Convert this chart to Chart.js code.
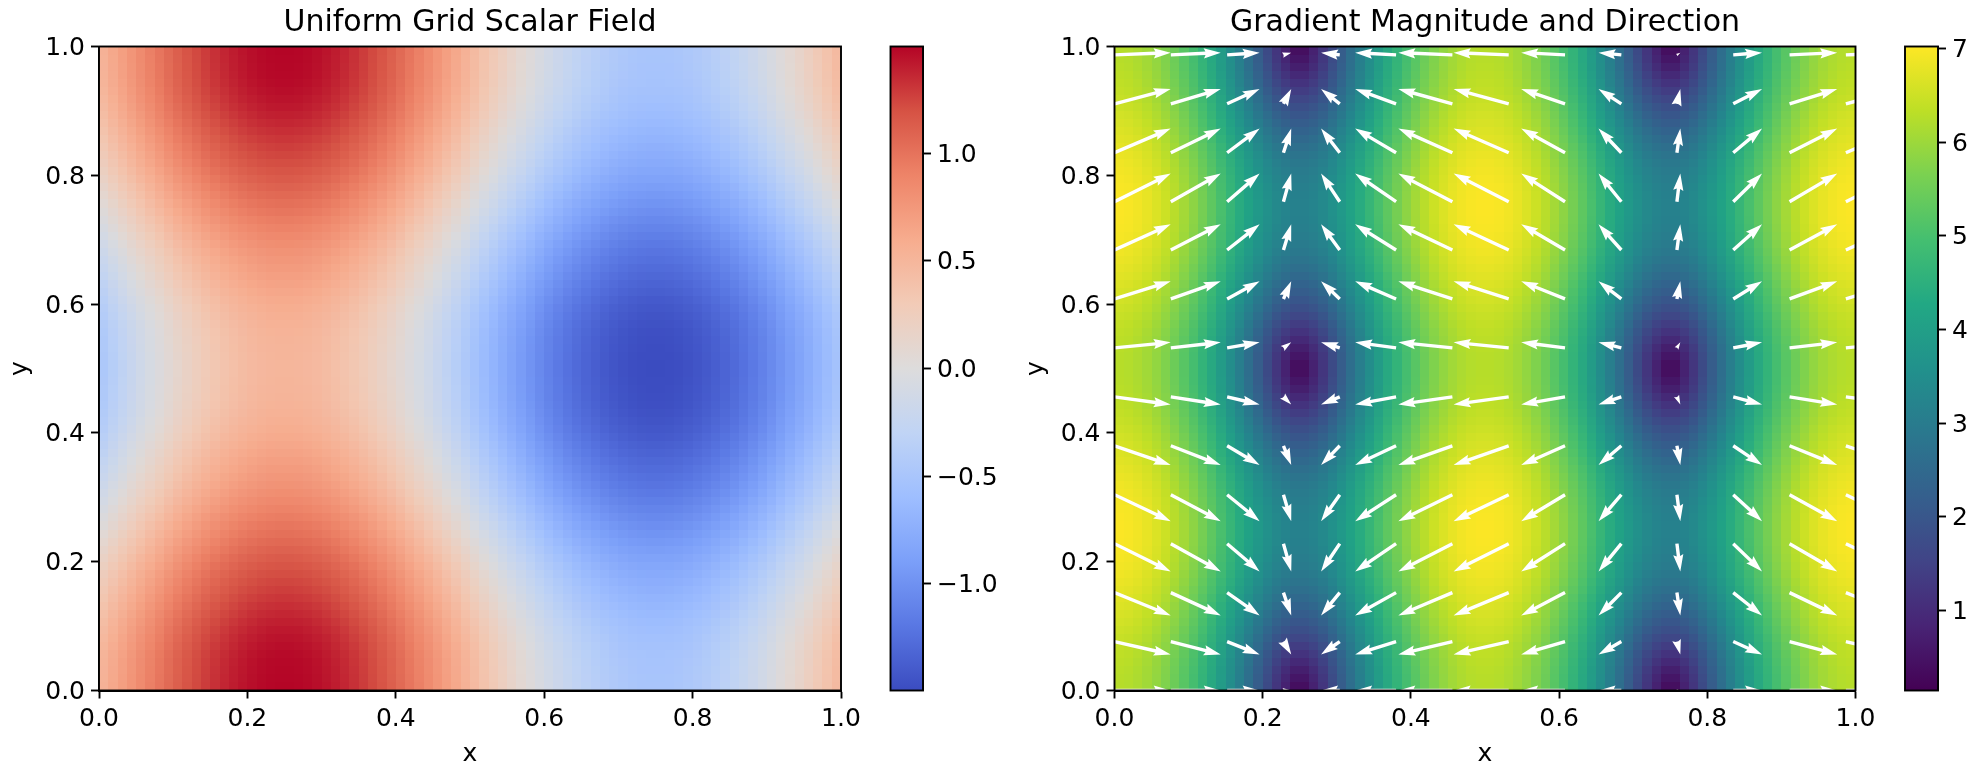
<!DOCTYPE html>
<html>
<head>
<meta charset="utf-8">
<title>Uniform Grid Scalar Field</title>
<script src="https://cdn.jsdelivr.net/npm/chart.js@4/dist/chart.umd.min.js"></script>
<style>
  html, body { margin: 0; padding: 0; background: #fff; width: 1980px; height: 774px; overflow: hidden; }
  canvas { position: absolute; top: 0; }
</style>
</head>
<body>
<canvas id="scalar-plot" width="880" height="774" style="left:0"></canvas>
<canvas id="scalar-bar" width="120" height="774" style="left:880px"></canvas>
<canvas id="gradient-plot" width="880" height="774" style="left:1016px"></canvas>
<canvas id="gradient-bar" width="85" height="774" style="left:1895px"></canvas>
<script>
// --- Values ---

const axisTicks = [0, 0.2, 0.4, 0.6, 0.8, 1];
const scalarBarTicks = [-1, -0.5, 0, 0.5, 1];
const gradientBarTicks = [1, 2, 3, 4, 5, 6, 7];
const scalarRange = [-1.497, 1.497];
const gradientRange = [0.146, 7.02];

// Scalar field in hundredths: rows run y = 0 to 0.5 in steps of 1/40, columns x = 0 to 1.
// The picture is mirrored about y = 0.5, so the upper half reuses these rows.
const scalarRows = [
  [50,66,81,95,109,121,131,139,145,149,150,149,145,139,131,121,109,95,81,66,50,34,19,5,-9,-21,-31,-39,-45,-49,-50,-49,-45,-39,-31,-21,-9,5,19,34,50],
  [49,65,80,94,108,120,130,138,144,148,149,148,144,138,130,120,108,94,80,65,49,33,18,4,-10,-22,-32,-40,-46,-50,-51,-50,-46,-40,-32,-22,-10,4,18,33,49],
  [48,64,79,93,107,119,129,137,143,147,148,147,143,137,129,119,107,93,79,64,48,32,17,3,-11,-23,-33,-41,-47,-51,-52,-51,-47,-41,-33,-23,-11,3,17,32,48],
  [45,61,76,90,104,116,126,134,140,144,145,144,140,134,126,116,104,90,76,61,45,29,14,0,-14,-26,-36,-44,-50,-54,-55,-54,-50,-44,-36,-26,-14,0,14,29,45],
  [41,57,72,86,100,112,122,130,136,140,141,140,136,130,122,112,100,86,72,57,41,25,10,-4,-18,-30,-40,-48,-54,-58,-59,-58,-54,-48,-40,-30,-18,-4,10,25,41],
  [35,51,66,80,94,106,116,124,130,134,135,134,130,124,116,106,94,80,66,51,35,19,4,-10,-24,-36,-46,-54,-60,-64,-65,-64,-60,-54,-46,-36,-24,-10,4,19,35],
  [29,45,60,74,88,100,110,118,124,128,129,128,124,118,110,100,88,74,60,45,29,13,-2,-16,-30,-42,-52,-60,-66,-70,-71,-70,-66,-60,-52,-42,-30,-16,-2,13,29],
  [23,39,54,68,82,94,104,112,118,122,123,122,118,112,104,94,82,68,54,39,23,7,-8,-22,-36,-48,-58,-66,-72,-76,-77,-76,-72,-66,-58,-48,-36,-22,-8,7,23],
  [16,32,47,61,75,87,97,105,111,115,116,115,111,105,97,87,75,61,47,32,16,0,-15,-29,-43,-55,-65,-73,-79,-83,-84,-83,-79,-73,-65,-55,-43,-29,-15,0,16],
  [8,24,39,53,67,79,89,97,103,107,108,107,103,97,89,79,67,53,39,24,8,-8,-23,-37,-51,-63,-73,-81,-87,-91,-92,-91,-87,-81,-73,-63,-51,-37,-23,-8,8],
  [0,16,31,45,59,71,81,89,95,99,100,99,95,89,81,71,59,45,31,16,0,-16,-31,-45,-59,-71,-81,-89,-95,-99,-100,-99,-95,-89,-81,-71,-59,-45,-31,-16,0],
  [-8,8,23,37,51,63,73,81,87,91,92,91,87,81,73,63,51,37,23,8,-8,-24,-39,-53,-67,-79,-89,-97,-103,-107,-108,-107,-103,-97,-89,-79,-67,-53,-39,-24,-8],
  [-16,0,15,29,43,55,65,73,79,83,84,83,79,73,65,55,43,29,15,0,-16,-32,-47,-61,-75,-87,-97,-105,-111,-115,-116,-115,-111,-105,-97,-87,-75,-61,-47,-32,-16],
  [-23,-7,8,22,36,48,58,66,72,76,77,76,72,66,58,48,36,22,8,-7,-23,-39,-54,-68,-82,-94,-104,-112,-118,-122,-123,-122,-118,-112,-104,-94,-82,-68,-54,-39,-23],
  [-29,-13,2,16,30,42,52,60,66,70,71,70,66,60,52,42,30,16,2,-13,-29,-45,-60,-74,-88,-100,-110,-118,-124,-128,-129,-128,-124,-118,-110,-100,-88,-74,-60,-45,-29],
  [-35,-19,-4,10,24,36,46,54,60,64,65,64,60,54,46,36,24,10,-4,-19,-35,-51,-66,-80,-94,-106,-116,-124,-130,-134,-135,-134,-130,-124,-116,-106,-94,-80,-66,-51,-35],
  [-41,-25,-10,4,18,30,40,48,54,58,59,58,54,48,40,30,18,4,-10,-25,-41,-57,-72,-86,-100,-112,-122,-130,-136,-140,-141,-140,-136,-130,-122,-112,-100,-86,-72,-57,-41],
  [-45,-29,-14,0,14,26,36,44,50,54,55,54,50,44,36,26,14,0,-14,-29,-45,-61,-76,-90,-104,-116,-126,-134,-140,-144,-145,-144,-140,-134,-126,-116,-104,-90,-76,-61,-45],
  [-48,-32,-17,-3,11,23,33,41,47,51,52,51,47,41,33,23,11,-3,-17,-32,-48,-64,-79,-93,-107,-119,-129,-137,-143,-147,-148,-147,-143,-137,-129,-119,-107,-93,-79,-64,-48],
  [-49,-33,-18,-4,10,22,32,40,46,50,51,50,46,40,32,22,10,-4,-18,-33,-49,-65,-80,-94,-108,-120,-130,-138,-144,-148,-149,-148,-144,-138,-130,-120,-108,-94,-80,-65,-49],
  [-50,-34,-19,-5,9,21,31,39,45,49,50,49,45,39,31,21,9,-5,-19,-34,-50,-66,-81,-95,-109,-121,-131,-139,-145,-149,-150,-149,-145,-139,-131,-121,-109,-95,-81,-66,-50]
];

// Gradient magnitude in hundredths: rows run y = 0 to 0.25, mirrored twice to fill the panel.
const gradientRows = [
  [628,621,598,560,508,444,369,285,194,98,15,98,194,285,369,444,508,560,598,621,628,621,598,560,508,444,369,285,194,98,15,98,194,285,369,444,508,560,598,621,628],
  [630,623,600,562,510,447,372,289,200,110,49,110,200,289,372,447,510,562,600,623,630,623,600,562,510,447,372,289,200,110,49,110,200,289,372,447,510,562,600,623,630],
  [635,629,606,568,517,454,382,301,217,138,97,138,217,301,382,454,517,568,606,629,635,629,606,568,517,454,382,301,217,138,97,138,217,301,382,454,517,568,606,629,635],
  [644,637,615,578,528,466,396,319,241,173,143,173,241,319,396,466,528,578,615,637,644,637,615,578,528,466,396,319,241,173,143,173,241,319,396,466,528,578,615,637,644],
  [655,648,626,590,541,481,413,340,268,209,185,209,268,340,413,481,541,590,626,648,655,648,626,590,541,481,413,340,268,209,185,209,268,340,413,481,541,590,626,648,655],
  [666,659,638,602,554,496,431,361,295,243,222,243,295,361,431,496,554,602,638,659,666,659,638,602,554,496,431,361,295,243,222,243,295,361,431,496,554,602,638,659,666],
  [677,671,650,615,568,512,448,382,320,272,254,272,320,382,448,512,568,615,650,671,677,671,650,615,568,512,448,382,320,272,254,272,320,382,448,512,568,615,650,671,677],
  [688,681,660,626,580,525,463,400,341,297,280,297,341,400,463,525,580,626,660,681,688,681,660,626,580,525,463,400,341,297,280,297,341,400,463,525,580,626,660,681,688],
  [696,689,669,635,589,535,475,413,356,315,299,315,356,413,475,535,589,635,669,689,696,689,669,635,589,535,475,413,356,315,299,315,356,413,475,535,589,635,669,689,696],
  [700,694,674,640,595,542,482,421,366,325,310,325,366,421,482,542,595,640,674,694,700,694,674,640,595,542,482,421,366,325,310,325,366,421,482,542,595,640,674,694,700],
  [702,696,675,642,597,544,485,424,369,329,314,329,369,424,485,544,597,642,675,696,702,696,675,642,597,544,485,424,369,329,314,329,369,424,485,544,597,642,675,696,702]
];

// Arrow tails and components: U changes along the columns, V along the rows.
const arrowX = [0, 0.076, 0.152, 0.228, 0.304, 0.38, 0.456, 0.532, 0.608, 0.684, 0.759, 0.835, 0.911, 0.987];
const arrowY = [0, 0.076, 0.152, 0.228, 0.304, 0.38, 0.456, 0.532, 0.608, 0.684, 0.759, 0.835, 0.911, 0.987];
const arrowU = [6.28, 5.58, 3.63, 0.87, -2.09, -4.57, -6.04, -6.16, -4.90, -2.55, 0.38, 3.22, 5.33, 6.26];
const arrowV = [0, -1.44, -2.56, -3.11, -2.96, -2.16, -0.86, 0.62, 1.97, 2.87, 3.14, 2.70, 1.66, 0.25];

// --- Styles ---

const coolwarmStops = ['#3b4cc0', '#5977e3', '#7b9ff9', '#9ebeff', '#c0d4f5', '#dddcdc', '#f2cbb7', '#f7ac8e', '#ee8468', '#d65244', '#b40426'];
const viridisStops = ['#440154', '#482475', '#414487', '#355f8d', '#2a788e', '#21918c', '#22a884', '#44bf70', '#7ad151', '#bddf26', '#fde725'];
const LINE_W = 1.9;
const TICK_FONT = 25;
const Y_LABEL_NUDGE = 2;
const ARROW_PX_PER_UNIT = 8.95;
const ARROW_SHAFT = 3.4;

Chart.defaults.font.family = '"DejaVu Sans"';
Chart.defaults.color = '#000';
Chart.defaults.animation = false;

// --- Helpers ---

function mirrorRows(rows) {
    return rows.concat(rows.slice(0, -1).reverse());
}

function hexToRgb(hex) {
    return [1, 3, 5].map(p => parseInt(hex.slice(p, p + 2), 16));
}

function colorAt(stops, t) {
    const pos = Math.min(Math.max(t, 0), 1) * (stops.length - 1);
    const lo = Math.min(Math.floor(pos), stops.length - 2);
    const a = hexToRgb(stops[lo]);
    const b = hexToRgb(stops[lo + 1]);
    return a.map((c, k) => Math.round(c + (b[k] - c) * (pos - lo)));
}

// rows start at y = 0, columns at x = 0
function gridPoints(rows) {
    const points = [];
    rows.forEach((row, j) => row.forEach((v, i) => {
        points.push({ x: i / (row.length - 1), y: j / (rows.length - 1), v: v / 100, i, j });
    }));
    return points;
}

function arrowPoints() {
    const points = [];
    arrowY.forEach((y, j) => arrowX.forEach((x, i) => {
        points.push({ x, y, u: arrowU[i], v: arrowV[j] });
    }));
    return points;
}

function minusLabel(v) {
    return v.toFixed(1).replace('-', '\u2212');
}

// --- Plugins ---

// Paints the grid dataset across the plot area as 80 x 80 cells
const fieldPlugin = {
    id: 'fieldPlugin',
    beforeDatasetsDraw(chart, args, opts) {
        const points = chart.data.datasets[0].data;
        const cols = Math.max(...points.map(p => p.i)) + 1;
        const rows = Math.max(...points.map(p => p.j)) + 1;
        const src = document.createElement('canvas');
        src.width = cols;
        src.height = rows;
        const srcCtx = src.getContext('2d');
        const img = srcCtx.createImageData(cols, rows);
        points.forEach(p => {
            const t = (p.v - opts.range[0]) / (opts.range[1] - opts.range[0]);
            const rgb = colorAt(opts.stops, t);
            const k = 4 * ((rows - 1 - p.j) * cols + p.i);
            img.data[k] = rgb[0];
            img.data[k + 1] = rgb[1];
            img.data[k + 2] = rgb[2];
            img.data[k + 3] = 255;
        });
        srcCtx.putImageData(img, 0, 0);

        const cells = document.createElement('canvas');
        cells.width = 80;
        cells.height = 80;
        cells.getContext('2d').drawImage(src, 0.5, 0.5, cols - 1, rows - 1, 0, 0, 80, 80);

        const { x, y } = chart.scales;
        const left = x.getPixelForValue(0);
        const top = y.getPixelForValue(1);
        const ctx = chart.ctx;
        ctx.save();
        ctx.imageSmoothingEnabled = false;
        ctx.drawImage(cells, left, top, x.getPixelForValue(1) - left, y.getPixelForValue(0) - top);
        ctx.restore();
    }
};

// Quiver style arrows from the second dataset, tail on the point
const arrowPlugin = {
    id: 'arrowPlugin',
    afterDatasetsDraw(chart) {
        const set = chart.data.datasets[1];
        if (!set) return;
        const { x, y } = chart.scales;
        const area = chart.chartArea;
        const ctx = chart.ctx;
        ctx.save();
        ctx.beginPath();
        ctx.rect(area.left, area.top, area.right - area.left, area.bottom - area.top);
        ctx.clip();
        ctx.fillStyle = '#fff';
        set.data.forEach(p => {
            const dx = p.u * ARROW_PX_PER_UNIT;
            const dy = -p.v * ARROW_PX_PER_UNIT;
            const len = Math.hypot(dx, dy);
            const shrink = Math.min(1, len / (4.5 * ARROW_SHAFT));
            const w = ARROW_SHAFT * shrink;
            ctx.save();
            ctx.translate(x.getPixelForValue(p.x), y.getPixelForValue(p.y));
            ctx.rotate(Math.atan2(dy, dx));
            ctx.beginPath();
            ctx.moveTo(0, -w / 2);
            ctx.lineTo(len - 4.5 * w, -w / 2);
            ctx.lineTo(len - 5 * w, -1.5 * w);
            ctx.lineTo(len, 0);
            ctx.lineTo(len - 5 * w, 1.5 * w);
            ctx.lineTo(len - 4.5 * w, w / 2);
            ctx.lineTo(0, w / 2);
            ctx.closePath();
            ctx.fill();
            ctx.restore();
        });
        ctx.restore();
    }
};

const barFillPlugin = {
    id: 'barFillPlugin',
    beforeDatasetsDraw(chart, args, opts) {
        const area = chart.chartArea;
        const ctx = chart.ctx;
        const grad = ctx.createLinearGradient(0, area.bottom, 0, area.top);
        opts.stops.forEach((c, k) => grad.addColorStop(k / (opts.stops.length - 1), c));
        ctx.fillStyle = grad;
        ctx.fillRect(area.left, area.top, area.right - area.left, area.bottom - area.top);
    }
};

const framePlugin = {
    id: 'framePlugin',
    afterDraw(chart) {
        const area = chart.chartArea;
        const ctx = chart.ctx;
        ctx.save();
        ctx.strokeStyle = '#000';
        ctx.lineWidth = LINE_W;
        ctx.strokeRect(area.left, area.top, area.right - area.left, area.bottom - area.top);
        ctx.restore();
    }
};

// Canvas 'middle' baseline sits a bit above the tick, push the y labels down to it
const yLabelPlugin = {
    id: 'yLabelPlugin',
    beforeDraw(chart) {
        const items = chart.scales.y.getLabelItems();
        if (items.nudged) return;
        items.forEach(item => { item.options.translation[1] += Y_LABEL_NUDGE; });
        items.nudged = true;
    }
};

// --- Chart builders ---

function tickAxis(position, ticks, format, size, label) {
    return {
        type: 'linear',
        position,
        afterBuildTicks(scale) { scale.ticks = ticks.map(value => ({ value })); },
        afterFit(scale) {
            if (scale.isHorizontal()) scale.height = size; else scale.width = size;
            scale.paddingLeft = scale.paddingRight = scale.paddingTop = scale.paddingBottom = 0;
        },
        border: { display: true, color: '#000', width: LINE_W },
        grid: { display: true, drawOnChartArea: false, drawTicks: true, tickLength: 8, tickWidth: LINE_W, tickColor: '#000' },
        ticks: { font: { size: TICK_FONT }, color: '#000', padding: 6, autoSkip: false, maxRotation: 0, callback: format },
        title: label ? { display: true, text: label, color: '#000', font: { size: TICK_FONT }, padding: { top: 5, bottom: 5 } } : { display: false }
    };
}

function fieldChart(id, title, datasets, fieldOpts, yAxisWidth, rightPad) {
    const fmt = v => v.toFixed(1);
    const xAxis = Object.assign(tickAxis('bottom', axisTicks, fmt, 83.5, 'x'), { min: 0, max: 1 });
    const yAxis = Object.assign(tickAxis('left', axisTicks, fmt, yAxisWidth, 'y'), { min: 0, max: 1 });
    return new Chart(document.getElementById(id), {
        type: 'scatter',
        data: { datasets },
        plugins: [fieldPlugin, arrowPlugin, framePlugin, yLabelPlugin],
        options: {
            responsive: false,
            devicePixelRatio: 1,
            layout: { padding: { left: 0, right: rightPad, top: 0, bottom: 0 } },
            scales: { x: xAxis, y: yAxis },
            plugins: {
                legend: { display: false },
                tooltip: { enabled: false },
                title: { display: true, text: title, fullSize: false, color: '#000', font: { size: 30, weight: 'normal' }, padding: { top: 5.6, bottom: 4.9 } },
                fieldPlugin: fieldOpts
            }
        }
    });
}

function colorBar(id, range, ticks, format, stops, leftPad, barAxisWidth) {
    const yAxis = Object.assign(tickAxis('right', ticks, format, barAxisWidth), { min: range[0], max: range[1] });
    return new Chart(document.getElementById(id), {
        type: 'scatter',
        data: { datasets: [{ data: ticks.map(v => ({ x: 0.5, y: v })), pointRadius: 0 }] },
        plugins: [barFillPlugin, framePlugin, yLabelPlugin],
        options: {
            responsive: false,
            devicePixelRatio: 1,
            layout: { padding: { left: leftPad, right: 0, top: 46.5, bottom: 83.5 } },
            scales: { x: { display: false, min: 0, max: 1 }, y: yAxis },
            plugins: {
                legend: { display: false },
                tooltip: { enabled: false },
                barFillPlugin: { stops }
            }
        }
    });
}

// --- Draw ---

const scalarTable = mirrorRows(scalarRows);
const gradientTable = mirrorRows(mirrorRows(gradientRows));

fieldChart('scalar-plot', 'Uniform Grid Scalar Field',
    [{ label: 'Scalar field', data: gridPoints(scalarTable), pointRadius: 0 }],
    { range: scalarRange, stops: coolwarmStops }, 99, 39);

fieldChart('gradient-plot', 'Gradient Magnitude and Direction',
    [{ label: 'Gradient magnitude', data: gridPoints(gradientTable), pointRadius: 0 },
     { label: 'Gradient direction', data: arrowPoints(), pointRadius: 0 }],
    { range: gradientRange, stops: viridisStops }, 98.5, 40.5);

colorBar('scalar-bar', scalarRange, scalarBarTicks, minusLabel, coolwarmStops, 10.5, 77);
colorBar('gradient-bar', gradientRange, gradientBarTicks, v => String(v), viridisStops, 10, 42);
</script>
</body>
</html>
